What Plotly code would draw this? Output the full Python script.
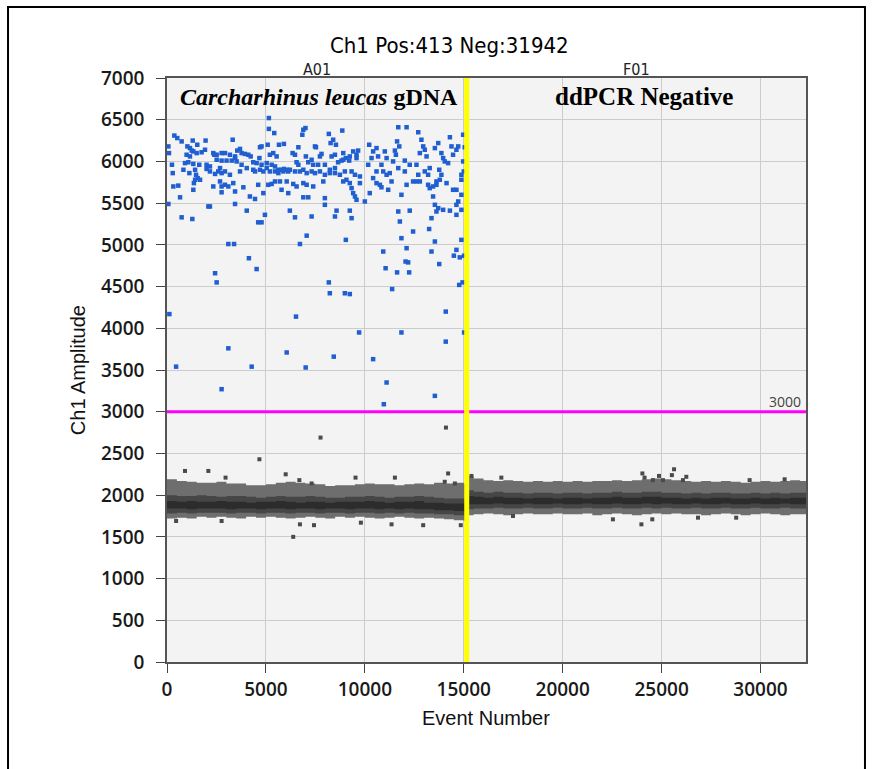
import plotly.graph_objects as go

# ---------------- data ----------------
wells = ["A01", "F01"]
well_boundary = 15150          # event number where well F01 starts
total_events = 32300
threshold = 3000
sample_labels = ["<i>Carcharhinus leucas</i> gDNA", "ddPCR Negative"]
title_text = "Ch1 Pos:413 Neg:31942"

x_ticks = [0, 5000, 10000, 15000, 20000, 25000, 30000]
y_ticks = [0, 500, 1000, 1500, 2000, 2500, 3000, 3500, 4000, 4500, 5000, 5500, 6000, 6500, 7000]

# positive droplets (A01), event number / amplitude
pos_event = [
    5150, 5150, 5420, 7000, 6890, 6840, 370, 520, 740, 1300,
    1530, 1950, 3320, 3690, 4700, 4780, 5090, 5660, 5910, 6640,
    70, 100, 1030, 1160, 1250, 1330, 1500, 1750, 1920, 2340,
    2510, 2760, 2930, 3180, 3440, 3550, 3770, 3940, 4110, 4230,
    990, 1160, 910, 1080, 1330, 1630, 2000, 2170, 2390, 2510,
    2760, 3010, 3270, 3440, 3520, 3770, 4360, 4530, 4670, 4780,
    5040, 5200, 5370, 5540, 5290, 5460, 5630, 5790, 5910, 6080,
    6350, 6470, 6550, 6640, 7020, 7140, 250, 290, 830, 1130,
    1420, 1470, 1550, 1670, 2000, 2170, 2430, 2590, 2680, 2760,
    2930, 3180, 3690, 4030, 4360, 4450, 4700, 4870, 5040, 5200,
    5460, 5630, 5880, 6130, 6210, 6470, 6720, 6890, 7060, 1420,
    1360, 2680, 2760, 2930, 3100, 3350, 320, 570, 1330, 2340,
    3860, 4610, 5120, 5290, 5460, 5710, 6050, 6380, 6550, 6890,
    7060, 2760, 3440, 4190, 4450, 4870, 5790, 6130, 660, 6890,
    7140, 70, 2090, 2170, 3440, 4030, 4950, 4610, 4780, 6210,
    6470, 740, 1280, 7060, 3100, 3390, 6720, 4140, 4530, 2430,
    2510, 120, 6520, 3100, 6050, 460, 4280, 7010, 2760, 8860,
    8180, 8400, 8540, 8270, 7480, 7810, 7730, 7530, 8320, 8490,
    8910, 9410, 9660, 9580, 9580, 9240, 7310, 7390, 7640, 7980,
    8230, 8490, 8650, 8820, 8910, 9040, 9210, 7310, 7480, 7730,
    7980, 8230, 8490, 8740, 8990, 9070, 9330, 9500, 9750, 8910,
    9240, 9330, 9410, 9500, 9580, 9750, 7390, 7900, 7980, 7980,
    8490, 8570, 9240, 9330, 7310, 10000, 10220, 10420, 10340, 10170,
    10590, 10670, 11010, 11100, 10840, 10590, 10930, 10420, 10590, 10760,
    10840, 11100, 11260, 10250, 11180, 11520, 11430, 11630, 11740, 11690,
    12110, 11570, 11690, 11350, 12020, 12020, 12270, 12440, 12610, 12780,
    12610, 12700, 12860, 12950, 13030, 12780, 13120, 13280, 13200, 13200,
    13280, 13450, 13620, 12110, 12700, 13030, 11850, 13540, 13710, 13870,
    13960, 14040, 14210, 14300, 14380, 14630, 14720, 14460, 13760, 13870,
    13620, 13450, 13790, 14130, 14460, 14630, 14630, 14880, 14880, 14970,
    15050, 14970, 15000, 14880, 14720, 11690, 12270, 11770, 12440, 11850,
    13250, 13370, 13540, 13710, 13960, 13620, 14300, 14630, 14880, 13540,
    13370, 14630, 14880, 9040, 10930, 12110, 14500, 14800, 15020, 12060,
    12190, 13760, 11050, 11630, 12240, 8180, 8230, 8990, 9240, 11380,
    14770, 14940, 14090, 9710, 11850, 15020, 14090, 8430, 10420, 11100,
    13540, 10960,
]
pos_amp = [
    6520, 6390, 6340, 6400, 6380, 6320, 6310, 6280, 6240, 6250,
    6200, 6250, 6260, 6150, 6170, 6180, 6200, 6200, 6210, 6170,
    6180, 6100, 6180, 6160, 6130, 6120, 6100, 6110, 6140, 6100,
    6080, 6100, 6100, 6080, 6060, 6130, 6100, 6090, 6080, 6060,
    6080, 6060, 5980, 5990, 5970, 5960, 5960, 5940, 6080, 6020,
    6010, 6010, 6010, 6040, 6000, 5960, 5990, 5980, 6040, 5960,
    5980, 6080, 6100, 6060, 5960, 5940, 5900, 5900, 5910, 5900,
    6100, 6080, 5990, 5960, 6060, 5990, 5960, 5860, 5900, 5860,
    5900, 5840, 5800, 5780, 5910, 5880, 5850, 5880, 5920, 5860,
    5880, 5840, 5880, 5920, 5900, 5880, 5900, 5880, 5920, 5880,
    5880, 5860, 5880, 5880, 5900, 5880, 5880, 5900, 5860, 5780,
    5740, 5760, 5700, 5720, 5700, 5740, 5700, 5710, 5660, 5700,
    5690, 5720, 5720, 5730, 5760, 5760, 5760, 5730, 5700, 5740,
    5720, 5630, 5640, 5580, 5550, 5620, 5660, 5620, 5570, 5570,
    5570, 5490, 5460, 5460, 5490, 5410, 5360, 5270, 5270, 5410,
    5330, 5330, 5310, 5110, 5010, 5010, 5010, 4840, 4710, 4660,
    4550, 4170, 4140, 3760, 3710, 3540, 3540, 3530, 3270, 6370,
    6330, 6260, 6200, 6220, 6180, 6090, 6060, 6170, 6060, 6080,
    6100, 6120, 6130, 6080, 6040, 6060, 6020, 5960, 5960, 5960,
    5900, 5920, 5990, 6010, 6020, 6040, 6010, 5880, 5860, 5880,
    5840, 5860, 5860, 5840, 5880, 5780, 5880, 5840, 5820, 5760,
    5740, 5680, 5620, 5580, 5540, 5740, 5700, 5760, 5560, 5480,
    5340, 5410, 5410, 5320, 5340, 5520, 6200, 6120, 6040, 5960,
    6160, 6060, 6120, 6040, 5960, 5880, 5880, 5800, 5740, 5720,
    5690, 5840, 5860, 5620, 5660, 6130, 6000, 6240, 6180, 6410,
    6410, 6080, 5920, 5760, 6010, 5880, 5960, 5760, 5760, 5760,
    5960, 6350, 6260, 6180, 6140, 6100, 6060, 5920, 5840, 5720,
    5680, 5700, 5760, 5720, 5840, 5880, 5600, 6160, 6220, 6100,
    6040, 6000, 5980, 6290, 6180, 6140, 6180, 6080, 5900, 5840,
    5720, 5580, 5780, 5740, 5660, 5660, 5480, 5840, 5600, 6320,
    6170, 6000, 5880, 5780, 5520, 5400, 5410, 5280, 5160, 5080,
    5190, 5320, 5480, 5440, 5420, 5400, 5410, 5360, 5420, 5040,
    4920, 4940, 5060, 5060, 4920, 4960, 4870, 4850, 4870, 4800,
    4790, 4770, 4720, 4670, 4670, 4550, 4420, 4420, 4410, 4470,
    4520, 4550, 4200, 3950, 3950, 3950, 3840, 3660, 3630, 3350,
    3190, 3090,
]

# isolated negative droplets outside the dense band
neg_out_event = [7760, 14100, 4670, 910, 2090, 2960, 6000, 9530, 11520, 14210,
                 460, 2760, 6380, 6720, 7430, 9800, 11350, 12950, 14850, 6690,
                 7310, 14040, 14550, 25630, 24030, 25520, 24870, 16900, 15390, 24140,
                 26080, 26250, 25070, 24560, 29450, 31220, 17490, 22540, 23980, 24530,
                 26840, 28770]
neg_out_amp = [2690, 2810, 2430, 2290, 2290, 2210, 2250, 2210, 2210, 2260,
               1690, 1690, 1500, 1650, 1640, 1670, 1650, 1640, 1640, 2180,
               2140, 2160, 2140, 2310, 2260, 2240, 2230, 2210, 2230, 2210,
               2180, 2220, 2180, 2180, 2180, 2190, 1750, 1710, 1650, 1710,
               1730, 1730]

# dense negative band envelopes (outer / core / darkest)
a01_x = [0, 500, 1000, 1500, 2000, 2500, 3000, 3500, 4000, 4500, 5000, 5500,
         6000, 6500, 7000, 7500, 8000, 8500, 9000, 9500, 10000, 10500, 11000,
         11500, 12000, 12500, 13000, 13500, 14000, 14500, 15000, 15150]
a01_outer_hi = [2190, 2170, 2160, 2150, 2150, 2160, 2140, 2140,
                2120, 2120, 2130, 2150, 2160, 2150, 2140, 2130,
                2110, 2120, 2120, 2130, 2140, 2130, 2130, 2120,
                2130, 2140, 2130, 2150, 2140, 2150, 2140, 2130]
a01_outer_lo = [1720, 1730, 1720, 1740, 1730, 1740, 1730, 1720,
                1740, 1730, 1740, 1730, 1720, 1730, 1740, 1730,
                1720, 1740, 1730, 1740, 1730, 1720, 1730, 1740,
                1730, 1720, 1730, 1720, 1710, 1700, 1690, 1680]
a01_core_hi = [2000, 1990, 1990, 2000, 1990, 1980, 1990, 1990,
               1980, 1970, 1980, 1990, 1980, 1980, 1990, 1980,
               1970, 1970, 1980, 1980, 1990, 1980, 1970, 1980,
               1980, 1990, 1980, 1970, 1960, 1960, 1950, 1950]
a01_core_lo = [1780, 1790, 1780, 1790, 1790, 1790, 1780, 1790,
               1790, 1780, 1790, 1790, 1780, 1790, 1790, 1780,
               1790, 1790, 1780, 1790, 1790, 1780, 1790, 1780,
               1790, 1780, 1780, 1770, 1770, 1760, 1750, 1750]
a01_dark_hi = [1930, 1920, 1930, 1920, 1920, 1930, 1920, 1920,
               1910, 1920, 1920, 1930, 1920, 1910, 1920, 1920,
               1910, 1920, 1920, 1920, 1930, 1920, 1910, 1920,
               1920, 1930, 1910, 1910, 1900, 1900, 1890, 1890]
a01_dark_lo = [1840, 1840, 1830, 1840, 1840, 1840, 1830, 1840,
               1840, 1830, 1840, 1840, 1830, 1840, 1840, 1830,
               1840, 1840, 1830, 1840, 1840, 1830, 1840, 1830,
               1840, 1830, 1830, 1820, 1820, 1810, 1800, 1800]

f01_x = [15150, 15500, 16000, 16500, 17000, 17500, 18000, 18500, 19000,
         19500, 20000, 20500, 21000, 21500, 22000, 22500, 23000, 23500,
         24000, 24500, 25000, 25500, 26000, 26500, 27000, 27500, 28000,
         28500, 29000, 29500, 30000, 30500, 31000, 31500, 32000, 32300]
f01_outer_hi = [2230, 2200, 2180, 2170, 2180, 2170, 2160, 2170, 2160,
                2170, 2160, 2170, 2160, 2170, 2170, 2180, 2170, 2180,
                2190, 2200, 2190, 2180, 2170, 2160, 2170, 2160, 2170,
                2160, 2150, 2160, 2170, 2160, 2170, 2180, 2170, 2160]
f01_outer_lo = [1760, 1770, 1780, 1770, 1760, 1770, 1780, 1770, 1770,
                1780, 1770, 1770, 1780, 1760, 1770, 1780, 1770, 1760,
                1770, 1780, 1770, 1780, 1770, 1770, 1760, 1770, 1780,
                1770, 1760, 1770, 1780, 1770, 1760, 1770, 1770, 1760]
f01_core_hi = [2060, 2040, 2030, 2040, 2030, 2030, 2020, 2030, 2030,
               2020, 2030, 2030, 2020, 2030, 2030, 2040, 2030, 2030,
               2040, 2040, 2030, 2030, 2020, 2030, 2020, 2030, 2030,
               2020, 2020, 2030, 2020, 2030, 2020, 2030, 2030, 2020]
f01_core_lo = [1830, 1840, 1840, 1850, 1840, 1840, 1850, 1840, 1840,
               1850, 1840, 1840, 1850, 1840, 1840, 1850, 1840, 1840,
               1850, 1840, 1850, 1840, 1840, 1850, 1840, 1840, 1850,
               1840, 1840, 1850, 1840, 1840, 1850, 1840, 1840, 1840]
f01_dark_hi = [1990, 1980, 1970, 1980, 1970, 1970, 1960, 1970, 1970,
               1960, 1970, 1970, 1960, 1970, 1970, 1980, 1970, 1970,
               1980, 1980, 1970, 1970, 1960, 1970, 1960, 1970, 1970,
               1960, 1960, 1970, 1960, 1970, 1960, 1970, 1970, 1960]
f01_dark_lo = [1890, 1890, 1890, 1900, 1890, 1890, 1900, 1890, 1890,
               1900, 1890, 1890, 1900, 1890, 1890, 1900, 1890, 1890,
               1900, 1890, 1900, 1890, 1890, 1900, 1890, 1890, 1900,
               1890, 1890, 1900, 1890, 1890, 1900, 1890, 1890, 1890]

# ---------------- figure ----------------
fig = go.Figure()

band_colors = ["#6e6e6e", "#464646", "#2c2c2c"]
bands = [
    (a01_x, [(a01_outer_lo, a01_outer_hi), (a01_core_lo, a01_core_hi), (a01_dark_lo, a01_dark_hi)]),
    (f01_x, [(f01_outer_lo, f01_outer_hi), (f01_core_lo, f01_core_hi), (f01_dark_lo, f01_dark_hi)]),
]
for xs, layers in bands:
    for (lo, hi), col in zip(layers, band_colors):
        fig.add_trace(go.Scatter(x=xs, y=lo, mode="lines", line=dict(width=0, shape="hv"),
                                 hoverinfo="skip", showlegend=False))
        fig.add_trace(go.Scatter(x=xs, y=hi, mode="lines", line=dict(width=0, shape="hv"),
                                 fill="tonexty", fillcolor=col, hoverinfo="skip", showlegend=False))

fig.add_trace(go.Scatter(x=neg_out_event, y=neg_out_amp, mode="markers",
                         marker=dict(symbol="square", size=4, color="#4a4a4a"),
                         hoverinfo="skip", showlegend=False))
fig.add_trace(go.Scatter(x=pos_event, y=pos_amp, mode="markers",
                         marker=dict(symbol="square", size=4.5, color="#1f5fd2",
                                     line=dict(width=0)),
                         hoverinfo="skip", showlegend=False))

# threshold and well boundary
fig.add_shape(type="line", xref="paper", x0=0, x1=1, yref="y", y0=threshold, y1=threshold,
              line=dict(color="#ff00ff", width=3))
fig.add_shape(type="line", xref="x", x0=well_boundary, x1=well_boundary, yref="paper", y0=0, y1=1,
              line=dict(color="#ffff00", width=5))
# outer frame of the figure
fig.add_shape(type="rect", xref="paper", yref="paper", x0=-0.2488, x1=1.0923, y0=-0.2, y1=1.1216,
              line=dict(color="black", width=2), layer="above")

narrow = "Liberation Sans Narrow, Arial Narrow, DejaVu Sans Condensed, sans-serif"
serif = "Liberation Serif, Times New Roman, serif"
tickfont = dict(family="Open Sans, DejaVu Sans, sans-serif", size=19, color="#1a1a1a", weight=600)

annotations = [
    dict(text=title_text, xref="paper", yref="paper", x=0.442, y=1.0565, showarrow=False,
         xanchor="center", yanchor="middle", font=dict(family=narrow, size=22, color="black")),
    dict(text=wells[0], xref="x", yref="paper", x=well_boundary / 2, y=1.0154, showarrow=False,
         xanchor="center", yanchor="middle", font=dict(family=narrow, size=16, color="#222")),
    dict(text=wells[1], xref="x", yref="paper", x=(well_boundary + total_events) / 2, y=1.0154,
         showarrow=False, xanchor="center", yanchor="middle",
         font=dict(family=narrow, size=16, color="#222")),
    dict(text="<b>" + sample_labels[0] + "</b>", xref="x", yref="paper", x=well_boundary / 2 + 100,
         y=0.9675, showarrow=False, xanchor="center", yanchor="middle",
         font=dict(family=serif, size=24, color="black")),
    dict(text="<b>" + sample_labels[1] + "</b>", xref="x", yref="paper",
         x=(well_boundary + total_events) / 2 + 400, y=0.9675, showarrow=False,
         xanchor="center", yanchor="middle", font=dict(family=serif, size=25, color="black")),
    dict(text=str(threshold), xref="paper", yref="y", x=0.996, y=threshold, showarrow=False,
         xanchor="right", yanchor="bottom", yshift=-1,
         font=dict(family="Open Sans, DejaVu Sans, sans-serif", size=14, color="#444")),
    dict(text="Event Number", xref="paper", yref="paper", x=0.499, y=-0.096, showarrow=False,
         xanchor="center", yanchor="middle",
         font=dict(family="Liberation Sans, Arial, sans-serif", size=20, color="#111")),
    dict(text="Ch1 Amplitude", xref="paper", yref="paper", x=-0.139, y=0.50, showarrow=False,
         xanchor="center", yanchor="middle", textangle=-90,
         font=dict(family="Liberation Sans, Arial, sans-serif", size=20, color="#111")),
]

fig.update_layout(
    width=872, height=769,
    margin=dict(l=167, r=66, t=78, b=107),
    paper_bgcolor="white", plot_bgcolor="#f3f3f3",
    showlegend=False,
    annotations=annotations,
)
fig.update_xaxes(range=[0, total_events], tickvals=x_ticks, ticktext=[str(v) for v in x_ticks],
                 showgrid=True, gridcolor="#cccccc", gridwidth=1, zeroline=False,
                 showline=True, linecolor="#555", linewidth=1.5, mirror=True,
                 ticks="outside", ticklen=9, tickcolor="#444", tickwidth=1.2,
                 tickfont=tickfont)
fig.update_yaxes(range=[0, 7000], tickvals=y_ticks, ticktext=[str(v) for v in y_ticks],
                 showgrid=True, gridcolor="#cccccc", gridwidth=1, zeroline=False,
                 showline=True, linecolor="#555", linewidth=1.5, mirror=True,
                 ticks="outside", ticklen=9, tickcolor="#444", tickwidth=1.2,
                 tickfont=tickfont, ticklabelstandoff=8)

fig.write_html("out.html")
